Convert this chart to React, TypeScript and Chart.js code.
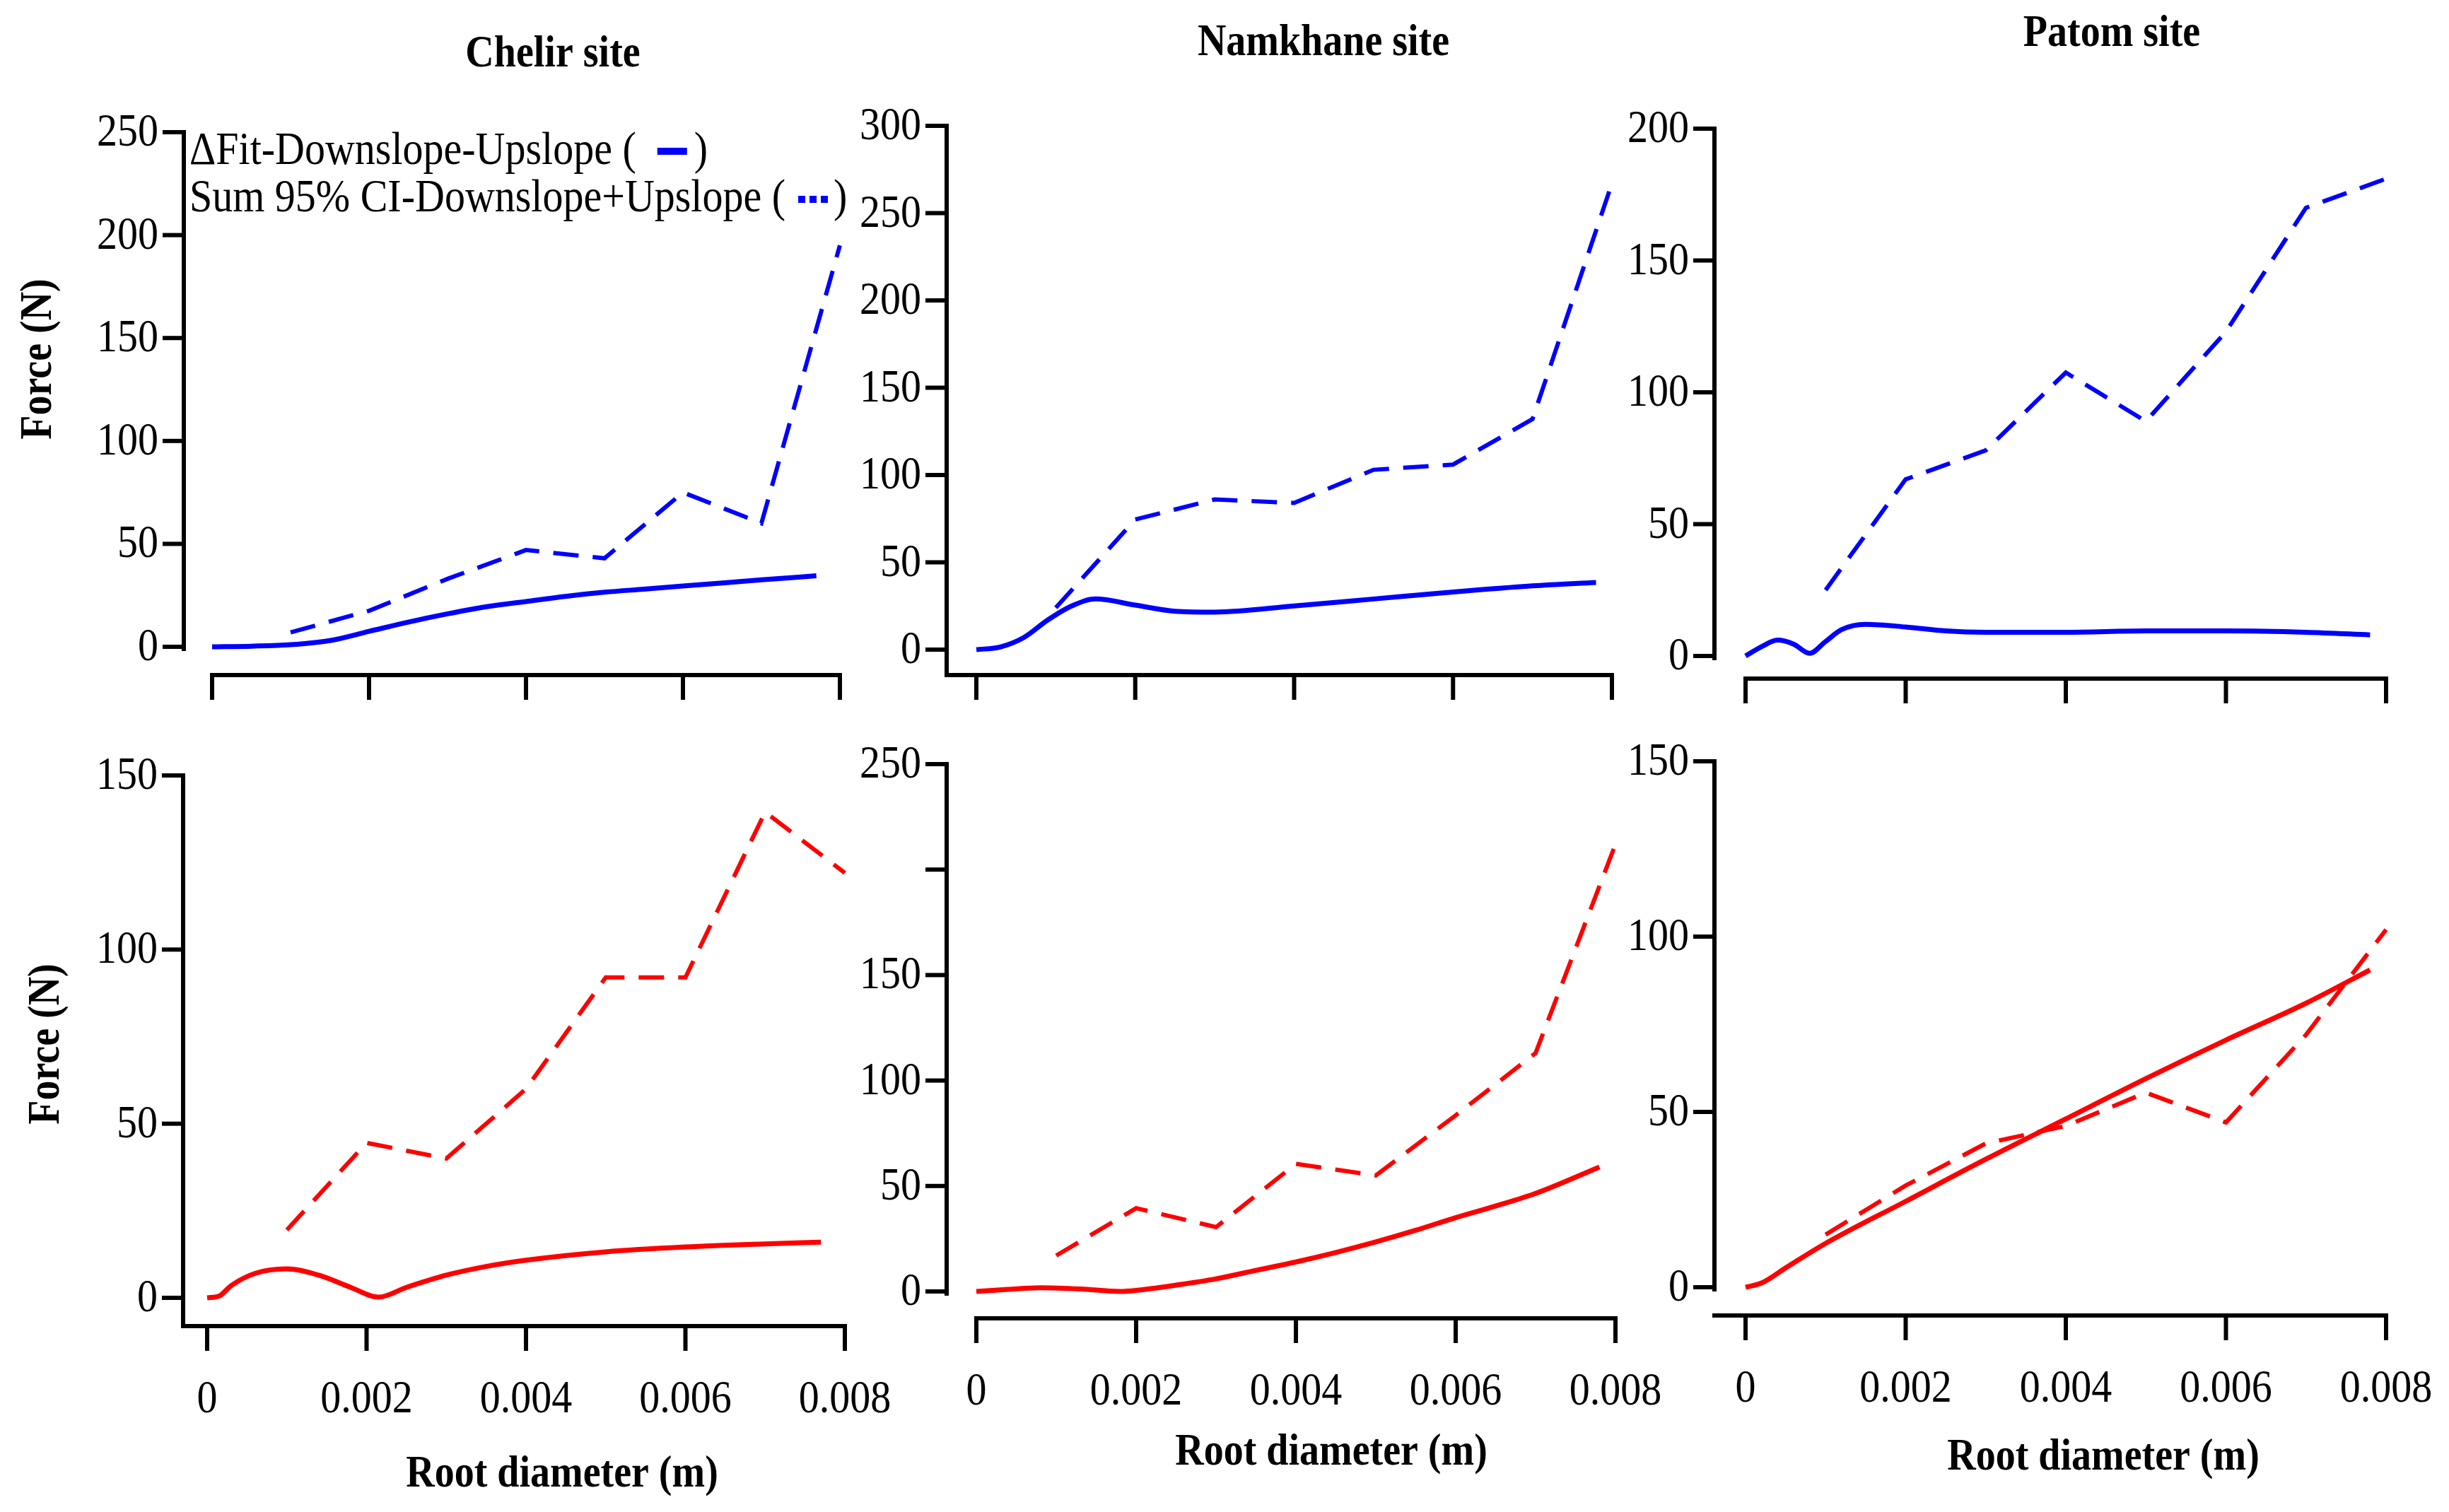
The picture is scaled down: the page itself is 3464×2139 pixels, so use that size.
import React, { useEffect, useRef } from "react";
import { Chart, registerables } from "chart.js";

Chart.register(...registerables);

// ---------------- data ----------------
const xTickValues = [0, 0.002, 0.004, 0.006, 0.008];
const xTickLabels = ["0", "0.002", "0.004", "0.006", "0.008"];

// 95% CI sums (dashed), sampled at these root diameters
const ciX = [0.001, 0.002, 0.003, 0.004, 0.005, 0.006, 0.007, 0.008];
const chelirUpCI = [7, 17.5, 33, 47, 43, 75, 60, 195];
const namkhaneUpCI = [24, 74.5, 86, 84, 103, 106, 132, 267];
const patomUpCI = [25, 67, 78, 107.5, 89, 123, 170, 181];
const chelirDownCI = [19.5, 44.5, 40, 60, 92, 92, 139.5, 122];
const namkhaneDownCI = [17, 39.5, 30.5, 60.5, 55, 83.5, 113, 212];
const patomDownCI = [15, 29, 41, 46, 55.5, 47, 72, 102];

// Delta fit (solid)
const chelirUpFitX = [0, 0.0005, 0.001, 0.0015, 0.002, 0.0025, 0.003, 0.0035, 0.004, 0.0045, 0.005, 0.0055, 0.006, 0.0065, 0.007, 0.0077];
const chelirUpFit = [0, 0.3, 1, 3, 7.5, 12, 16, 19.5, 22, 24.5, 26.5, 28, 29.5, 31, 32.5, 34.5];

const namkhaneUpFitX = [0, 0.0003, 0.0006, 0.0009, 0.0012, 0.0015, 0.002, 0.0025, 0.003, 0.004, 0.005, 0.006, 0.007, 0.0078];
const namkhaneUpFit = [0, 1.5, 7, 17, 25, 29, 25.5, 22, 21.5, 25, 29, 33, 36.5, 38.5];

const patomUpFitX = [0, 0.0002, 0.0004, 0.0006, 0.0008, 0.001, 0.0012, 0.0015, 0.002, 0.0025, 0.003, 0.004, 0.005, 0.006, 0.007, 0.0078];
const patomUpFit = [0, 3.5, 6, 4.5, 1, 5.5, 10, 12, 11, 9.5, 9, 9, 9.5, 9.5, 9, 8];

const chelirDownFitX = [0, 0.00015, 0.0003, 0.0006, 0.001, 0.0014, 0.0018, 0.00215, 0.0025, 0.003, 0.0035, 0.004, 0.005, 0.006, 0.007, 0.0077];
const chelirDownFit = [0, 0.5, 3.5, 7, 8.3, 6.5, 3, 0.2, 3, 6.5, 9, 10.8, 13.2, 14.6, 15.5, 16];

const namkhaneDownFitX = [0, 0.0004, 0.0008, 0.0013, 0.0018, 0.002, 0.0025, 0.003, 0.0035, 0.004, 0.0045, 0.005, 0.0055, 0.006, 0.0065, 0.007, 0.0078];
const namkhaneDownFit = [0, 1, 1.8, 1.2, 0, 0.5, 3, 6, 10, 14, 18.5, 23.5, 29, 35, 40.5, 46.5, 59];

const patomDownFitX = [0, 0.0002, 0.0005, 0.001, 0.002, 0.003, 0.004, 0.005, 0.006, 0.007, 0.0078];
const patomDownFit = [0, 1.2, 5.5, 12.5, 24.5, 36.5, 48, 59.5, 70.5, 81, 90.5];

const ticks250 = [0, 50, 100, 150, 200, 250];
const ticks300 = [0, 50, 100, 150, 200, 250, 300];
const ticks200 = [0, 50, 100, 150, 200];
const ticks150 = [0, 50, 100, 150];
const labels250 = ["0", "50", "100", "150", "200", "250"];
const labels300 = ["0", "50", "100", "150", "200", "250", "300"];
const labels200 = ["0", "50", "100", "150", "200"];
const labels150 = ["0", "50", "100", "150"];
const labels250NoTwoHundred = ["0", "50", "100", "150", "", "250"];

const siteTitles = ["Chelir site", "Namkhane site", "Patom site"];
const yTitle = "Force (N)";
const xTitle = "Root diameter (m)";
const legendFit = "\u0394Fit-Downslope-Upslope (";
const legendCI = "Sum 95% CI-Downslope+Upslope (";

const BLUE = "#0000ff";
const RED = "#ff0000";
const TICK_FONT = '58px "Liberation Serif"';
const BOLD_FONT = 'bold 56px "Liberation Serif"';
const VSTRETCH = 1.12;

// ---------------- layout ----------------
type Pt = { x: number; y: number };
type Panel = {
  canvas: { left: number; top: number; width: number; height: number };
  plot: { x0: number; x8: number; y0: number; yTop: number };
  yMax: number;
  yTicks: number[];
  yLabels: string[];
  color: string;
  fitX: number[];
  fitY: number[];
  ciY: number[];
  gapY: number;
  gapX: number;
  yAxisToX: boolean;
  xAxisFromY: boolean;
  xLabels: boolean;
  title?: { text: string } & Pt;
  yTitlePos?: Pt;
  xTitlePos?: Pt;
  legend?: boolean;
};

const panels: Panel[] = [
  {
    canvas: { left: 0, top: 0, width: 1300, height: 1010 },
    plot: { x0: 300, x8: 1188, y0: 915, yTop: 187 },
    yMax: 250, yTicks: ticks250, yLabels: labels250, color: BLUE,
    fitX: chelirUpFitX, fitY: chelirUpFit, ciY: chelirUpCI,
    gapY: 40, gapX: 40, yAxisToX: false, xAxisFromY: false, xLabels: false,
    title: { text: siteTitles[0], x: 782, y: 78 },
    yTitlePos: { x: 56, y: 508 },
    legend: true,
  },
  {
    canvas: { left: 1150, top: 0, width: 1230, height: 1010 },
    plot: { x0: 1381, x8: 2280, y0: 919, yTop: 178 },
    yMax: 300, yTicks: ticks300, yLabels: labels300, color: BLUE,
    fitX: namkhaneUpFitX, fitY: namkhaneUpFit, ciY: namkhaneUpCI,
    gapY: 42, gapX: 36, yAxisToX: true, xAxisFromY: true, xLabels: false,
    title: { text: siteTitles[1], x: 1872, y: 62 },
  },
  {
    canvas: { left: 2300, top: 0, width: 1164, height: 1010 },
    plot: { x0: 2469, x8: 3375, y0: 928, yTop: 182 },
    yMax: 200, yTicks: ticks200, yLabels: labels200, color: BLUE,
    fitX: patomUpFitX, fitY: patomUpFit, ciY: patomUpCI,
    gapY: 44, gapX: 32, yAxisToX: false, xAxisFromY: false, xLabels: false,
    title: { text: siteTitles[2], x: 2987, y: 49 },
  },
  {
    canvas: { left: 0, top: 990, width: 1300, height: 1149 },
    plot: { x0: 293, x8: 1195, y0: 1836, yTop: 1097 },
    yMax: 150, yTicks: ticks150, yLabels: labels150, color: RED,
    fitX: chelirDownFitX, fitY: chelirDownFit, ciY: chelirDownCI,
    gapY: 34, gapX: 40, yAxisToX: true, xAxisFromY: true, xLabels: true,
    yTitlePos: { x: 67, y: 1477 },
    xTitlePos: { x: 795, y: 2087 },
  },
  {
    canvas: { left: 1150, top: 990, width: 1230, height: 1149 },
    plot: { x0: 1381, x8: 2285, y0: 1827, yTop: 1081 },
    yMax: 250, yTicks: ticks250, yLabels: labels250NoTwoHundred, color: RED,
    fitX: namkhaneDownFitX, fitY: namkhaneDownFit, ciY: namkhaneDownCI,
    gapY: 42, gapX: 38, yAxisToX: false, xAxisFromY: false, xLabels: true,
    xTitlePos: { x: 1883, y: 2056 },
  },
  {
    canvas: { left: 2300, top: 990, width: 1164, height: 1149 },
    plot: { x0: 2469, x8: 3375, y0: 1821, yTop: 1077 },
    yMax: 150, yTicks: ticks150, yLabels: labels150, color: RED,
    fitX: patomDownFitX, fitY: patomDownFit, ciY: patomDownCI,
    gapY: 44, gapX: 40, yAxisToX: false, xAxisFromY: true, xLabels: true,
    xTitlePos: { x: 2975, y: 2063 },
  },
];

// text drawn slightly taller than wide, like the condensed Times of the original
function stretchedText(ctx: CanvasRenderingContext2D, text: string, x: number, y: number) {
  ctx.save();
  ctx.translate(x, y);
  ctx.scale(1, VSTRETCH);
  ctx.fillText(text, 0, 0);
  ctx.restore();
}

function makeAxesPlugin(panel: Panel) {
  return {
    id: "offsetAxes",
    afterDraw(chart: any) {
      const ctx: CanvasRenderingContext2D = chart.ctx;
      const xs = chart.scales.x;
      const ys = chart.scales.y;
      const ox = panel.canvas.left;
      const oy = panel.canvas.top;
      const px0 = xs.getPixelForValue(0);
      const px8 = xs.getPixelForValue(0.008);
      const py0 = ys.getPixelForValue(0);
      const pyTop = ys.getPixelForValue(panel.yMax);
      const axX = px0 - panel.gapY;
      const axY = py0 + panel.gapX;
      const lw = 6;
      const tickLen = 30;

      ctx.save();
      ctx.strokeStyle = "#000";
      ctx.fillStyle = "#000";
      ctx.lineWidth = lw;
      ctx.lineCap = "butt";

      // y axis line
      ctx.beginPath();
      ctx.moveTo(axX, pyTop - lw / 2);
      ctx.lineTo(axX, panel.yAxisToX ? axY + lw / 2 : py0 + lw);
      ctx.stroke();

      // y ticks and labels
      ctx.font = TICK_FONT;
      ctx.textAlign = "right";
      ctx.textBaseline = "middle";
      panel.yTicks.forEach((v, i) => {
        const y = ys.getPixelForValue(v);
        ctx.beginPath();
        ctx.moveTo(axX - tickLen, y);
        ctx.lineTo(axX, y);
        ctx.stroke();
        const lab = panel.yLabels[i];
        if (lab) stretchedText(ctx, lab, axX - tickLen - 6, y + 2);
      });

      // x axis line
      ctx.beginPath();
      ctx.moveTo(panel.xAxisFromY ? axX - lw / 2 : px0 - lw / 2, axY);
      ctx.lineTo(px8 + lw / 2, axY);
      ctx.stroke();

      // x ticks and labels
      ctx.textAlign = "center";
      xTickValues.forEach((v, i) => {
        const x = xs.getPixelForValue(v);
        ctx.beginPath();
        ctx.moveTo(x, axY);
        ctx.lineTo(x, axY + 35);
        ctx.stroke();
        if (panel.xLabels) stretchedText(ctx, xTickLabels[i], x, axY + 105);
      });

      // titles
      ctx.font = BOLD_FONT;
      if (panel.title) {
        ctx.textAlign = "center";
        stretchedText(ctx, panel.title.text, panel.title.x - ox, panel.title.y - oy);
      }
      if (panel.xTitlePos) {
        ctx.textAlign = "center";
        stretchedText(ctx, xTitle, panel.xTitlePos.x - ox, panel.xTitlePos.y - oy);
      }
      if (panel.yTitlePos) {
        ctx.save();
        ctx.translate(panel.yTitlePos.x - ox, panel.yTitlePos.y - oy);
        ctx.rotate(-Math.PI / 2);
        ctx.scale(1, VSTRETCH);
        ctx.textAlign = "center";
        ctx.fillText(yTitle, 0, 0);
        ctx.restore();
      }

      // legend
      if (panel.legend) {
        ctx.font = TICK_FONT;
        ctx.textAlign = "left";
        ctx.textBaseline = "middle";
        const lx = 268 - ox;
        const ly1 = 215 - oy;
        const ly2 = 282 - oy;
        stretchedText(ctx, legendFit, lx, ly1);
        let w = ctx.measureText(legendFit).width;
        ctx.fillStyle = panel.color;
        const bx = lx + w + 30;
        ctx.fillRect(bx, ly1 - 6, 42, 10);
        ctx.fillStyle = "#000";
        stretchedText(ctx, ")", bx + 52, ly1);

        stretchedText(ctx, legendCI, lx, ly2);
        w = ctx.measureText(legendCI).width;
        const dx = lx + w + 18;
        ctx.fillStyle = panel.color;
        for (let k = 0; k < 3; k++) ctx.fillRect(dx + k * 16, ly2 - 5, 10, 10);
        ctx.fillStyle = "#000";
        stretchedText(ctx, ")", dx + 50, ly2);
      }
      ctx.restore();
    },
  };
}

function PanelChart({ panel }: { panel: Panel }) {
  const ref = useRef<HTMLCanvasElement>(null);
  useEffect(() => {
    const c = ref.current;
    if (!c) return;
    const { canvas: cv, plot } = panel;
    const padding = {
      left: plot.x0 - cv.left,
      right: cv.left + cv.width - plot.x8,
      top: plot.yTop - cv.top,
      bottom: cv.top + cv.height - plot.y0,
    };
    const chart = new Chart(c, {
      type: "line",
      data: {
        datasets: [
          {
            data: panel.fitX.map((x, i) => ({ x, y: panel.fitY[i] })),
            borderColor: panel.color,
            borderWidth: 7,
            pointRadius: 0,
            cubicInterpolationMode: "monotone",
            borderJoinStyle: "round",
            fill: false,
            clip: 12,
          } as any,
          {
            data: ciX.map((x, i) => ({ x, y: panel.ciY[i] })),
            borderColor: panel.color,
            borderWidth: 6,
            borderDash: [36, 20],
            pointRadius: 0,
            tension: 0,
            fill: false,
            clip: 12,
          } as any,
        ],
      },
      options: {
        responsive: false,
        maintainAspectRatio: false,
        animation: false,
        devicePixelRatio: 1,
        events: [],
        layout: { padding },
        plugins: { legend: { display: false }, tooltip: { enabled: false } },
        scales: {
          x: { type: "linear", min: 0, max: 0.008, display: false },
          y: { type: "linear", min: 0, max: panel.yMax, display: false },
        },
      },
      plugins: [makeAxesPlugin(panel) as any],
    });
    return () => chart.destroy();
  }, [panel]);
  return (
    <canvas
      ref={ref}
      width={panel.canvas.width}
      height={panel.canvas.height}
      style={{
        position: "absolute",
        left: panel.canvas.left,
        top: panel.canvas.top,
        width: panel.canvas.width,
        height: panel.canvas.height,
      }}
    />
  );
}

export default function App() {
  return (
    <div
      style={{
        position: "absolute",
        left: 0,
        top: 0,
        width: 3464,
        height: 2139,
        background: "#fff",
        overflow: "hidden",
      }}
    >
      {panels.map((p, i) => (
        <PanelChart key={i} panel={p} />
      ))}
    </div>
  );
}
